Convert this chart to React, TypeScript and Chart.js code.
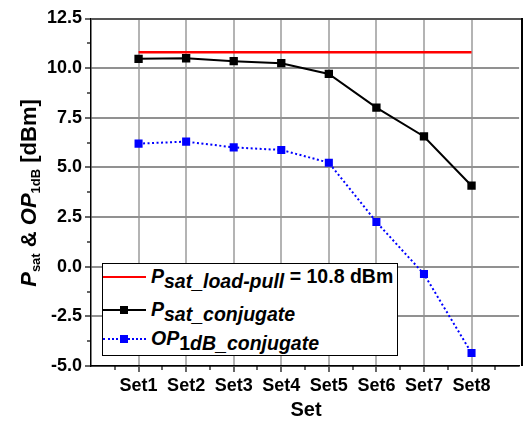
import React, { useEffect, useRef } from "react";
import { Chart, registerables } from "chart.js";

Chart.register(...registerables);

const categories = ["Set1", "Set2", "Set3", "Set4", "Set5", "Set6", "Set7", "Set8"];
const psatLoadPull = [10.8, 10.8, 10.8, 10.8, 10.8, 10.8, 10.8, 10.8];
const psatConjugate = [10.47, 10.5, 10.35, 10.25, 9.71, 8.01, 6.56, 4.08];
const op1dbConjugate = [6.2, 6.3, 6.01, 5.88, 5.24, 2.25, -0.37, -4.35];
const yMin = -5;
const yMax = 12.5;
const yStep = 2.5;

const FONT = "'Liberation Sans', Arial, sans-serif";

const minorTicks = {
  id: "minorTicks",
  afterDraw(chart: any) {
    const ctx: CanvasRenderingContext2D = chart.ctx;
    const ca = chart.chartArea;
    const xs = chart.scales.x;
    const ys = chart.scales.y;
    ctx.save();
    ctx.fillStyle = "rgb(0,0,0)";
    for (let v = 0.5; v <= 8.501; v += 1) {
      const px = Math.round(xs.getPixelForValue(v));
      ctx.fillRect(px - 0.6, ca.bottom, 1.2, 4);
    }
    for (let v = yMin + yStep / 2; v < yMax; v += yStep) {
      const py = Math.round(ys.getPixelForValue(v));
      ctx.fillRect(ca.left - 4, py - 0.6, 4, 1.2);
    }
    ctx.restore();
  },
};

const sub = (t: string, italic = true) => (
  <span style={{ position: "relative", top: 5, fontStyle: italic ? "italic" : "normal" }}>{t}</span>
);

export default function App() {
  const ref = useRef<HTMLCanvasElement | null>(null);
  useEffect(() => {
    if (!ref.current) return;
    const toXY = (arr: number[]) => arr.map((v, i) => ({ x: i + 1, y: v }));
    const chart = new Chart(ref.current, {
      type: "line",
      data: {
        datasets: [
          { label: "Psat_load-pull = 10.8 dBm", data: toXY(psatLoadPull), borderColor: "#ff0000", borderWidth: 2.5, pointRadius: 0 },
          { label: "Psat_conjugate", data: toXY(psatConjugate), borderColor: "#000", backgroundColor: "#000", borderWidth: 2, pointStyle: "rect", pointRadius: 5.9, pointBorderWidth: 0 },
          { label: "OP1dB_conjugate", data: toXY(op1dbConjugate), borderColor: "#00f", backgroundColor: "#00f", borderWidth: 2, borderDash: [2, 2.5], pointStyle: "rect", pointRadius: 5.7, pointBorderWidth: 0 },
        ],
      },
      options: {
        animation: false,
        responsive: false,
        maintainAspectRatio: false,
        layout: { padding: { top: 18.5, right: 0, left: 0, bottom: 0 } },
        plugins: { legend: { display: false }, tooltip: { enabled: false } },
        scales: {
          x: {
            type: "linear",
            min: 0,
            max: 9,
            afterBuildTicks: (s: any) => {
              s.ticks = categories.map((_, i) => ({ value: i + 1 }));
            },
            afterFit: (s: any) => {
              s.height = 56;
            },
            ticks: {
              autoSkip: false,
              maxRotation: 0,
              padding: 3,
              color: "#000",
              font: { family: FONT, weight: "bold", size: 18 },
              callback: (v: any) => categories[Math.round(Number(v)) - 1] ?? "",
            },
            grid: { color: "rgb(180,180,180)", lineWidth: 2, drawTicks: true, tickLength: 6, tickColor: "rgb(0,0,0)", tickWidth: 1.2 },
            border: { display: true, color: "#000", width: 1.5 },
          },
          y: {
            type: "linear",
            min: yMin,
            max: yMax,
            afterFit: (s: any) => {
              s.width = 91;
            },
            ticks: {
              stepSize: yStep,
              padding: 3,
              color: "#000",
              font: { family: FONT, weight: "bold", size: 18 },
              callback: (v: any) => Number(v).toFixed(1),
            },
            grid: { color: "rgb(145,145,145)", lineWidth: 2, drawTicks: true, tickLength: 6, tickColor: "rgb(0,0,0)", tickWidth: 1.2 },
            border: { display: true, color: "#000", width: 1.5 },
          },
        },
      } as any,
      plugins: [minorTicks],
    });
    return () => chart.destroy();
  }, []);

  const txt: React.CSSProperties = { position: "absolute", whiteSpace: "nowrap", fontFamily: FONT, fontWeight: "bold", color: "#000" };
  const rowText: React.CSSProperties = { ...txt, left: 48, fontSize: 19.5, lineHeight: "20px" };

  return (
    <div style={{ position: "absolute", left: 0, top: 0, width: 525, height: 422, background: "#fff", overflow: "hidden" }}>
      <canvas ref={ref} width={525} height={422} style={{ position: "absolute", left: 0, top: 0 }} />
      <div style={{ position: "absolute", left: 91, top: 18, width: 431, height: 2, background: "rgb(85,85,85)" }} />
      <div style={{ position: "absolute", left: 521, top: 18, width: 2, height: 348, background: "#000" }} />
      <div
        style={{
          ...txt,
          left: 28.5 - 150,
          top: 192.5 - 12,
          width: 300,
          height: 24,
          lineHeight: "24px",
          fontSize: 22,
          textAlign: "center",
          transform: "rotate(-90deg)",
        }}
      >
        <i>P</i>
        <span style={{ fontSize: 13, position: "relative", top: 4 }}>sat</span>
        {" & "}
        <i>OP</i>
        <span style={{ fontSize: 13, position: "relative", top: 4 }}>1dB</span>
        {" [dBm]"}
      </div>
      <div style={{ ...txt, left: 0, width: 612, top: 399, fontSize: 20, lineHeight: "20px", textAlign: "center" }}>Set</div>
      <div
        style={{
          position: "absolute",
          left: 102,
          top: 263,
          width: 294,
          height: 91,
          border: "1px solid #000",
          background: "#fff",
        }}
      >
        <div style={{ position: "absolute", left: 0, top: 11.75, width: 43, height: 2.5, background: "#ff0000" }} />
        <div style={{ ...rowText, top: 2.4 }}>
          <i>P</i>
          {sub("sat_load-pull")}
          {" = 10.8 dBm"}
        </div>
        <div style={{ position: "absolute", left: 0, top: 45, width: 43, height: 2, background: "#000" }} />
        <div style={{ position: "absolute", left: 17, top: 42, width: 8, height: 8, background: "#000" }} />
        <div style={{ ...rowText, top: 35.4 }}>
          <i>P</i>
          {sub("sat_conjugate")}
        </div>
        <div style={{ position: "absolute", left: 0, top: 74, width: 43, height: 0, borderTop: "2px dotted #0000ff" }} />
        <div style={{ position: "absolute", left: 17, top: 71, width: 8, height: 8, background: "#0000ff" }} />
        <div style={{ ...rowText, top: 64.4 }}>
          <i>OP</i>
          {sub("1", false)}
          {sub("dB_conjugate")}
        </div>
      </div>
    </div>
  );
}
